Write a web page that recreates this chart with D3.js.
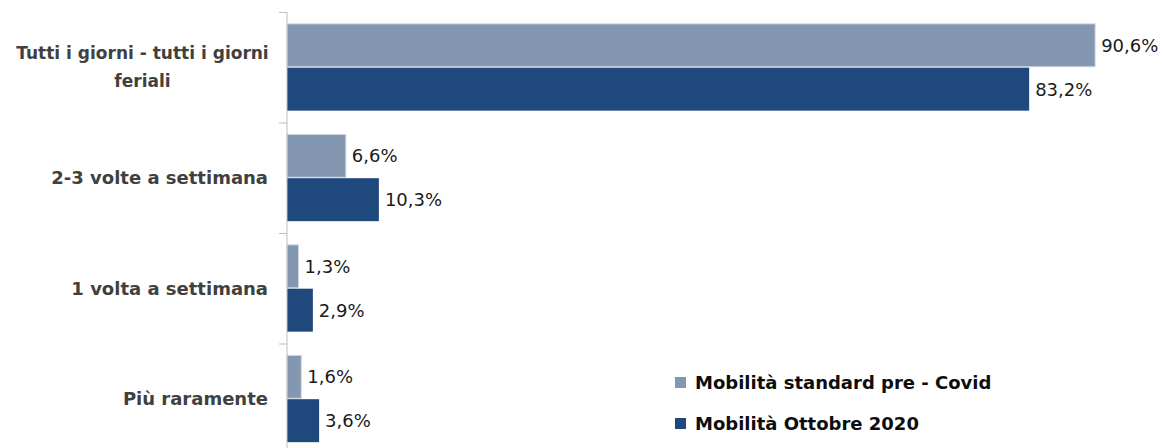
<!DOCTYPE html>
<html lang="it">
<head>
<meta charset="UTF-8">
<title>Mobilità</title>
<script src="https://cdn.jsdelivr.net/npm/d3@7"></script>
<style>
  body { margin: 0; background: #fff; }
  text { font-family: "DejaVu Sans", sans-serif; }
</style>
</head>
<body>
<svg width="1164" height="448"></svg>
<script>
// categorie e serie
var categories = ["Tutti i giorni - tutti i giorni|feriali", "2-3 volte a settimana", "1 volta a settimana", "Più raramente"];
var seriesNames = ["Mobilità standard pre - Covid", "Mobilità Ottobre 2020"];
var preCovid = [90.6, 6.6, 1.3, 1.6];
var ottobre2020 = [83.2, 10.3, 2.9, 3.6];
var colors = ["#8497b0", "#1f497d"];

var svg = d3.select("svg");
var axisX = 287;

var x = d3.scaleLinear().domain([0, 100]).range([axisX, axisX + 892]);
var y = d3.scaleBand().domain(categories).range([12, 454]).paddingInner(0).paddingOuter(0);
var inner = d3.scaleBand().domain([0, 1]).range([0, y.bandwidth()]).paddingInner(0.02).paddingOuter(0.27);

var data = categories.map(function(c, i) {
    return { cat: c, vals: [preCovid[i], ottobre2020[i]] };
});

var fmt = function(v) { return d3.format(".1f")(v).replace(".", ",") + "%"; };

// barre
var groups = svg.selectAll("g.cat")
    .data(data)
    .join("g")
    .attr("class", "cat")
    .attr("transform", function(d) { return "translate(0," + y(d.cat) + ")"; });

groups.selectAll("rect")
    .data(function(d) { return d.vals; })
    .join("rect")
    .attr("x", x(0))
    .attr("y", function(d, i) { return inner(i); })
    .attr("width", function(d) { return x(d) - x(0); })
    .attr("height", inner.bandwidth())
    .attr("fill", function(d, i) { return colors[i]; })
    .attr("stroke", function(d, i) { return i == 0 ? "#d3dae4" : "none"; })
    .attr("stroke-width", 1);

groups.selectAll("text.val")
    .data(function(d) { return d.vals; })
    .join("text")
    .attr("class", "val")
    .attr("x", function(d) { return x(d) + 6; })
    .attr("y", function(d, i) { return inner(i) + inner.bandwidth() / 2; })
    .attr("dy", "0.36em")
    .attr("font-size", 18)
    .attr("fill", "#1a1a1a")
    .text(fmt);

// asse verticale con tacche
var axis = svg.append("g");
axis.append("line")
    .attr("x1", axisX).attr("x2", axisX)
    .attr("y1", 12).attr("y2", 448)
    .attr("stroke", "#bfbfbf");
axis.selectAll("line.tick")
    .data(categories)
    .join("line")
    .attr("class", "tick")
    .attr("x1", axisX - 8).attr("x2", axisX)
    .attr("y1", function(d) { return y(d) + 0.5; })
    .attr("y2", function(d) { return y(d) + 0.5; })
    .attr("stroke", "#bfbfbf");

// etichette categorie
var labels = svg.selectAll("text.cat")
    .data(categories)
    .join("text")
    .attr("class", "cat")
    .attr("font-size", 18)
    .attr("font-weight", "bold")
    .attr("fill", "#404040");

labels.each(function(d) {
    var lines = d.split("|");
    var t = d3.select(this);
    var cy = y(d) + y.bandwidth() / 2;
    if (lines.length == 1) {
        t.attr("x", 268).attr("y", cy).attr("dy", "0.36em").attr("text-anchor", "end").text(lines[0]);
    } else {
        var lh = 28;
        t.attr("text-anchor", "middle").attr("font-size", 17);
        lines.forEach(function(l, k) {
            t.append("tspan")
                .attr("x", 142.5)
                .attr("y", cy + (k - (lines.length - 1) / 2) * lh)
                .attr("dy", "0.36em")
                .text(l);
        });
    }
});

// legenda
var legend = svg.append("g").attr("transform", "translate(675,377)");
var li = legend.selectAll("g")
    .data(seriesNames)
    .join("g")
    .attr("transform", function(d, i) { return "translate(0," + (i * 41) + ")"; });
li.append("rect")
    .attr("width", 11).attr("height", 11)
    .attr("fill", function(d, i) { return colors[i]; });
li.append("text")
    .attr("x", 20).attr("y", 5.5)
    .attr("dy", "0.36em")
    .attr("font-size", 18)
    .attr("font-weight", "bold")
    .attr("fill", "#0d0d0d")
    .text(function(d) { return d; });
</script>
</body>
</html>
